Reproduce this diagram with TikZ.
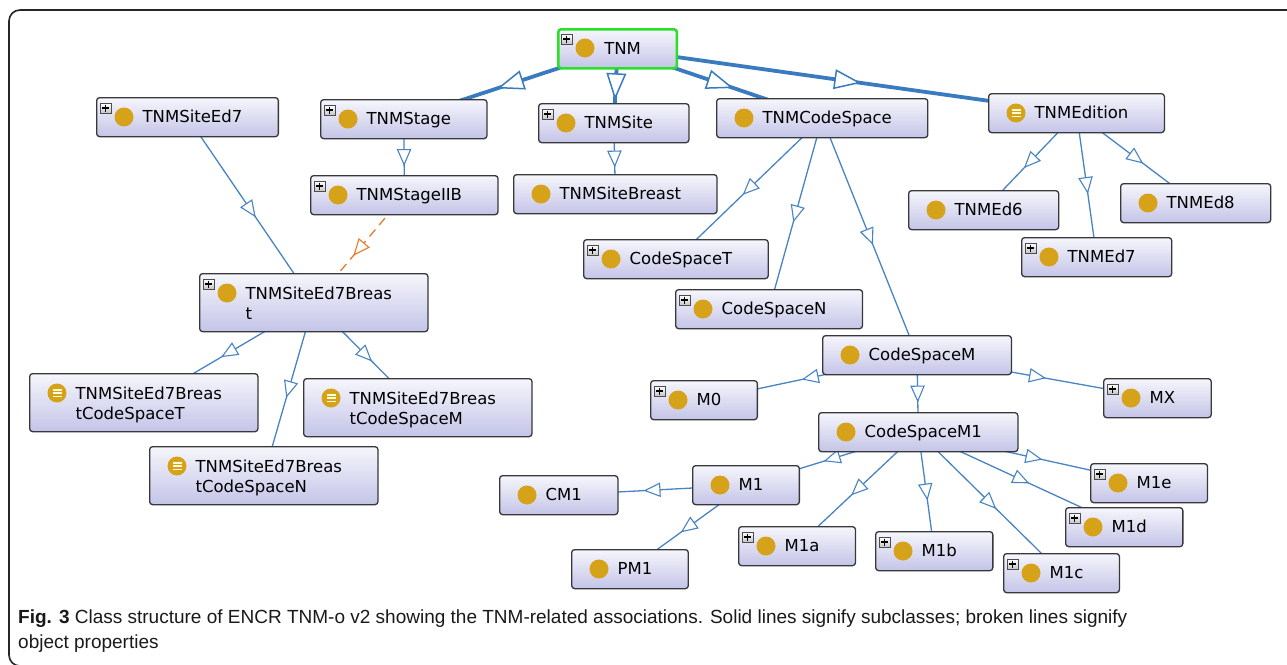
\documentclass[tikz,border=0pt]{standalone}
\usepackage{fontspec}
\setmainfont{DejaVu Sans}
\newfontfamily\capfont{Liberation Sans}
\usetikzlibrary{calc,decorations.markings,backgrounds}
\definecolor{gold}{RGB}{214,162,26}
\definecolor{eblue}{RGB}{72,132,196}
\definecolor{tblue}{RGB}{58,122,190}
\definecolor{orng}{RGB}{232,122,42}
\definecolor{btop}{RGB}{246,246,252}
\definecolor{bbot}{RGB}{196,196,232}
\definecolor{bord}{RGB}{55,55,60}
\definecolor{tgreen}{RGB}{40,225,40}
\newcommand\cind{\hspace*{10pt}}
\newcommand\icons[3]{%
  \ifx p#2\pic at ($(#1.north west)+(9.5,11)$) {plusic};\fi
  \pic at ($(#1.north west)+(28,20)$) {#3};}
\tikzset{
  cbox/.style={draw=bord, line width=1.3, rounded corners=3, top color=btop, bottom color=bbot,
    anchor=north west, inner xsep=36, inner ysep=0, align=left,
    font=\fontsize{16.5}{20.5}\selectfont, minimum height=39, text height=16, text depth=5},
  two/.style={minimum height=58, text height=34, text depth=0},
  root/.style={draw=tgreen, line width=2.5},
  plusic/.pic={\draw[draw=gray!60!black, line width=0.6, top color=white, bottom color=gray!45]
      (-5.5,-5) rectangle (5.5,5);
    \draw[line width=1.4, black] (-3.5,0) -- (3.5,0) (0,-3.5) -- (0,3.5);},
  cic/.pic={\fill[gold] (0,0) circle (9.5);},
  eic/.pic={\fill[gold] (0,0) circle (9.5);
    \draw[white!85!yellow, line width=1.4] (-4.5,-3.2) -- (4.5,-3.2) (-4.5,0) -- (4.5,0) (-4.5,3.2) -- (4.5,3.2);},
  sub/.style={draw=eblue, line width=1.3,
    decoration={markings, mark=at position 0.5 with {\draw[draw=eblue, fill=white, line width=1.1, solid]
      (-7.5pt,6.5pt) -- (7.5pt,0pt) -- (-7.5pt,-6.5pt) -- cycle;}}, postaction={decorate}},
  thk/.style={draw=tblue, line width=3.8,
    decoration={markings, mark=at position 0.5 with {\draw[draw=tblue, fill=white, line width=1.5, solid]
      (-12pt,9pt) -- (12pt,0pt) -- (-12pt,-9pt) -- cycle;}}, postaction={decorate}},
  prop/.style={draw=orng, line width=1.3, dash pattern=on 9pt off 6pt,
    decoration={markings, mark=at position 0.5 with {\draw[draw=orng, fill=white, line width=1.1, solid]
      (-7.5pt,6.5pt) -- (7.5pt,0pt) -- (-7.5pt,-6.5pt) -- cycle;}}, postaction={decorate}},
  frame/.style={draw=black!85, line width=1.6, rounded corners=11},
}
\begin{document}
\begin{tikzpicture}[x=1pt,y=-1pt]
\useasboundingbox (0,0) rectangle (1287,664);
\draw[frame] (1300,10) -- (9,10) -- (9,666) -- (1300,666);

% nodes
\node[cbox,root] (TNM) at (557,28) {\cind TNM};
\node[cbox] (SiteEd7) at (96,97) {\cind TNMSiteEd7};
\node[cbox] (Stage) at (320,99) {\cind TNMStage};
\node[cbox] (Site) at (538,103) {\cind TNMSite};
\node[cbox] (CodeSpace) at (716,98) {\cind TNMCodeSpace};
\node[cbox] (Edition) at (988,93) {\cind TNMEdition};
\node[cbox] (StageIIB) at (310,175) {\cind TNMStageIIB};
\node[cbox] (SiteBreast) at (513,174) {\cind TNMSiteBreast};
\node[cbox] (Ed6) at (908,190) {\cind TNMEd6};
\node[cbox] (Ed8) at (1120,183) {\cind TNMEd8};
\node[cbox] (Ed7) at (1021,237) {\cind TNMEd7};
\node[cbox] (CST) at (583,239) {\cind CodeSpaceT};
\node[cbox] (CSN) at (675,289) {\cind CodeSpaceN};
\node[cbox,two] (SE7B) at (199,273) {\cind TNMSiteEd7Breas\\\cind t};
\node[cbox,two] (SE7BT) at (29,373) {\cind TNMSiteEd7Breas\\\cind tCodeSpaceT};
\node[cbox,two] (SE7BM) at (303,378) {\cind TNMSiteEd7Breas\\\cind tCodeSpaceM};
\node[cbox,two] (SE7BN) at (149,446) {\cind TNMSiteEd7Breas\\\cind tCodeSpaceN};
\node[cbox] (CSM) at (822,335) {\cind CodeSpaceM};
\node[cbox] (M0) at (650,380) {\cind M0};
\node[cbox] (MX) at (1103,378) {\cind MX};
\node[cbox] (CSM1) at (818,412) {\cind CodeSpaceM1};
\node[cbox] (M1) at (692,465) {\cind M1};
\node[cbox] (CM1) at (499,475) {\cind CM1};
\node[cbox] (PM1) at (571,549) {\cind PM1};
\node[cbox] (M1a) at (738,526) {\cind M1a};
\node[cbox] (M1b) at (875,531) {\cind M1b};
\node[cbox] (M1c) at (1003,553) {\cind M1c};
\node[cbox] (M1d) at (1065,507) {\cind M1d};
\node[cbox] (M1e) at (1090,463) {\cind M1e};

% icons
\icons{TNM}{p}{cic}
\icons{SiteEd7}{p}{cic}
\icons{Stage}{p}{cic}
\icons{Site}{p}{cic}
\icons{CodeSpace}{n}{cic}
\icons{Edition}{n}{eic}
\icons{StageIIB}{p}{cic}
\icons{SiteBreast}{n}{cic}
\icons{Ed6}{n}{cic}
\icons{Ed8}{n}{cic}
\icons{Ed7}{p}{cic}
\icons{CST}{p}{cic}
\icons{CSN}{p}{cic}
\icons{SE7B}{p}{cic}
\icons{SE7BT}{n}{eic}
\icons{SE7BM}{n}{eic}
\icons{SE7BN}{n}{eic}
\icons{CSM}{n}{cic}
\icons{M0}{p}{cic}
\icons{MX}{p}{cic}
\icons{CSM1}{n}{cic}
\icons{M1}{n}{cic}
\icons{CM1}{n}{cic}
\icons{PM1}{n}{cic}
\icons{M1a}{p}{cic}
\icons{M1b}{p}{cic}
\icons{M1c}{p}{cic}
\icons{M1d}{p}{cic}
\icons{M1e}{p}{cic}

% connectors
\begin{scope}[on background layer]
\draw[thk] (TNM.center) -- (Stage.center);
\draw[thk] (TNM.center) -- (Site.center);
\draw[thk] (TNM.center) -- (CodeSpace.center);
\draw[thk] (TNM.center) -- (Edition.center);
\draw[sub] (SiteEd7.center) -- (SE7B.center);
\draw[sub] (Stage.center) -- (StageIIB.center);
\draw[sub] (Site.center) -- (SiteBreast.center);
\draw[sub] (CodeSpace.center) -- (CST.center);
\draw[sub] (CodeSpace.center) -- (CSN.center);
\draw[sub] (CodeSpace.center) -- (CSM.center);
\draw[sub] (Edition.center) -- (Ed6.center);
\draw[sub] (Edition.center) -- (Ed7.center);
\draw[sub] (Edition.center) -- (Ed8.center);
\draw[prop] (StageIIB.center) -- (SE7B.center);
\draw[sub] (SE7B.center) -- (SE7BT.center);
\draw[sub] (SE7B.center) -- (SE7BN.center);
\draw[sub] (SE7B.center) -- (SE7BM.center);
\draw[sub] (CSM.center) -- (M0.center);
\draw[sub] (CSM.center) -- (CSM1.center);
\draw[sub] (CSM.center) -- (MX.center);
\draw[sub] (CSM1.center) -- (M1.center);
\draw[sub] (CSM1.center) -- (M1a.center);
\draw[sub] (CSM1.center) -- (M1b.center);
\draw[sub] (CSM1.center) -- (M1c.center);
\draw[sub] (CSM1.center) -- (M1d.center);
\draw[sub] (CSM1.center) -- (M1e.center);
\draw[sub] (M1.center) -- (CM1.center);
\draw[sub] (M1.center) -- (PM1.center);
\end{scope}

% caption
\node[anchor=base west, align=left, inner sep=0, text=black!90,
  font=\capfont\fontsize{19}{25}\selectfont] (cap) at (18,648)
  {\textbf{Fig. 3} Class structure of ENCR TNM-o v2 showing the TNM-related associations. Solid lines signify subclasses; broken lines signify\\object properties};
\end{tikzpicture}
\end{document}
